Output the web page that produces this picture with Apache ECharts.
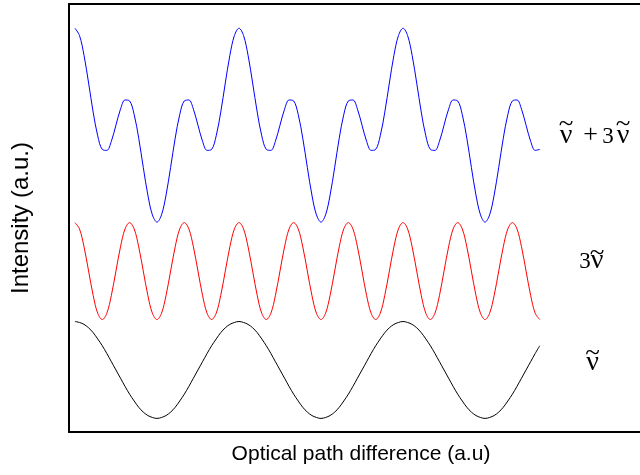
<!DOCTYPE html>
<html>
<head>
<meta charset="utf-8">
<script src="https://cdn.jsdelivr.net/npm/echarts@6/dist/echarts.min.js"></script>
<style>
  html, body { margin: 0; padding: 0; background: #fff; }
  #chart { width: 640px; height: 475px; }
</style>
</head>
<body>
<div id="chart"></div>
<script>
// Optical path difference samples (phase of the fundamental, degrees)
const opd = [0,10,20,30,40,50,60,70,80,90,100,110,120,130,140,150,160,170,180,190,200,210,220,230,240,250,260,270,280,290,300,310,320,330,340,350,
  360,370,380,390,400,410,420,430,440,450,460,470,480,490,500,510,520,530,540,550,560,570,580,590,600,610,620,630,640,650,660,670,680,690,700,710,
  720,730,740,750,760,770,780,790,800,810,820,830,840,850,860,870,880,890,900,910,920,930,940,950,960,970,980,990,1000,1010,1020];

// Interferogram of a single line at wavenumber ν̃
const fundamental = [
  1,0.98,0.94,0.87,0.77,0.64,0.5,0.34,0.17,0,-0.17,-0.34,-0.5,-0.64,-0.77,-0.87,-0.94,-0.98,-1,-0.98,-0.94,-0.87,-0.77,-0.64,-0.5,-0.34,-0.17,0,0.17,0.34,0.5,0.64,0.77,0.87,0.94,0.98,
  1,0.98,0.94,0.87,0.77,0.64,0.5,0.34,0.17,0,-0.17,-0.34,-0.5,-0.64,-0.77,-0.87,-0.94,-0.98,-1,-0.98,-0.94,-0.87,-0.77,-0.64,-0.5,-0.34,-0.17,0,0.17,0.34,0.5,0.64,0.77,0.87,0.94,0.98,
  1,0.98,0.94,0.87,0.77,0.64,0.5,0.34,0.17,0,-0.17,-0.34,-0.5,-0.64,-0.77,-0.87,-0.94,-0.98,-1,-0.98,-0.94,-0.87,-0.77,-0.64,-0.5,-0.34,-0.17,0,0.17,0.34,0.5];

// Interferogram of a line at 3ν̃
const third = [
  1,0.87,0.5,0,-0.5,-0.87,-1,-0.87,-0.5,0,0.5,0.87, 1,0.87,0.5,0,-0.5,-0.87,-1,-0.87,-0.5,0,0.5,0.87,
  1,0.87,0.5,0,-0.5,-0.87,-1,-0.87,-0.5,0,0.5,0.87, 1,0.87,0.5,0,-0.5,-0.87,-1,-0.87,-0.5,0,0.5,0.87,
  1,0.87,0.5,0,-0.5,-0.87,-1,-0.87,-0.5,0,0.5,0.87, 1,0.87,0.5,0,-0.5,-0.87,-1,-0.87,-0.5,0,0.5,0.87,
  1,0.87,0.5,0,-0.5,-0.87,-1,-0.87,-0.5,0,0.5,0.87, 1,0.87,0.5,0,-0.5,-0.87,-1,-0.87,-0.5,0,0.5,0.87,
  1,0.87,0.5,0,-0.5,-0.87,-1];

// Interferogram of both lines together
const combined = [
  2,1.85,1.44,0.87,0.27,-0.22,-0.5,-0.52,-0.33,0,0.33,0.52,0.5,0.22,-0.27,-0.87,-1.44,-1.85,-2,-1.85,-1.44,-0.87,-0.27,0.22,0.5,0.52,0.33,0,-0.33,-0.52,-0.5,-0.22,0.27,0.87,1.44,1.85,
  2,1.85,1.44,0.87,0.27,-0.22,-0.5,-0.52,-0.33,0,0.33,0.52,0.5,0.22,-0.27,-0.87,-1.44,-1.85,-2,-1.85,-1.44,-0.87,-0.27,0.22,0.5,0.52,0.33,0,-0.33,-0.52,-0.5,-0.22,0.27,0.87,1.44,1.85,
  2,1.85,1.44,0.87,0.27,-0.22,-0.5,-0.52,-0.33,0,0.33,0.52,0.5,0.22,-0.27,-0.87,-1.44,-1.85,-2,-1.85,-1.44,-0.87,-0.27,0.22,0.5,0.52,0.33,0,-0.33,-0.52,-0.5];

// Traces are stacked vertically on these baselines
const names = ['ν̃ + 3ν̃', '3ν̃', 'ν̃'];
const traces = [combined, third, fundamental];
const baselines = [5.05, 2.04, 0];
const colors = ['#0000ff', '#ff0000', '#000000'];

const chart = echarts.init(document.getElementById('chart'), null, { renderer: 'canvas' });

const series = traces.map((vals, k) => ({
  name: names[k],
  type: 'line',
  smooth: 0.35,
  showSymbol: false,
  silent: true,
  lineStyle: { color: colors[k], width: 1 },
  data: vals.map((v, i) => [opd[i], v + baselines[k]])
}));

// Trace labels: glyphs set in a serif face, with a tilde placed over each ν
const serif = '"Liberation Serif", "Times New Roman", serif';
const glyphSize = { 'ν': 28, '~': 27, '+': 26, '3': 23 };
const labelParts = [
  [['ν', 566, 135.5], ['+', 590.5, 135.5], ['3', 608, 136.5], ['ν', 623, 135.5], ['~', 566, 125], ['~', 623, 125]],
  [['3', 585, 261.5], ['ν', 597, 260.5], ['~', 597, 253.5]],
  [['ν', 592.5, 362.5], ['~', 592.5, 354]]
];
const graphic = [];
labelParts.forEach(parts => parts.forEach(([t, x, y]) => {
  graphic.push({
    type: 'text', x: x, y: y, silent: true,
    style: {
      text: t, fill: '#000',
      font: glyphSize[t] + 'px ' + serif,
      align: 'center', verticalAlign: 'middle'
    }
  });
}));

const bareAxis = {
  axisTick: { show: false }, axisLabel: { show: false }, splitLine: { show: false }
};
const frameLine = { show: true, onZero: false, lineStyle: { color: '#000', width: 2 } };

chart.setOption({
  animation: false,
  backgroundColor: '#fff',
  grid: { left: 69, top: 4, right: 0, bottom: 43 },
  xAxis: [
    Object.assign({
      type: 'value', min: -13, max: 1240, position: 'bottom',
      name: 'Optical path difference (a.u)',
      nameLocation: 'middle', nameGap: 12,
      nameTextStyle: { fontFamily: 'Liberation Sans', fontSize: 21, color: '#000', padding: [0, 0, 0, 13] },
      axisLine: frameLine
    }, bareAxis),
    Object.assign({
      type: 'value', min: -13, max: 1240, position: 'top',
      axisLine: frameLine
    }, bareAxis)
  ],
  yAxis: Object.assign({
    type: 'value', min: -1.28, max: 7.55, position: 'left',
    name: 'Intensity (a.u.)',
    nameLocation: 'middle', nameGap: 36,
    nameTextStyle: { fontFamily: 'Liberation Sans', fontSize: 24, color: '#000' },
    axisLine: frameLine
  }, bareAxis),
  graphic: graphic,
  series: series
});
</script>
</body>
</html>
